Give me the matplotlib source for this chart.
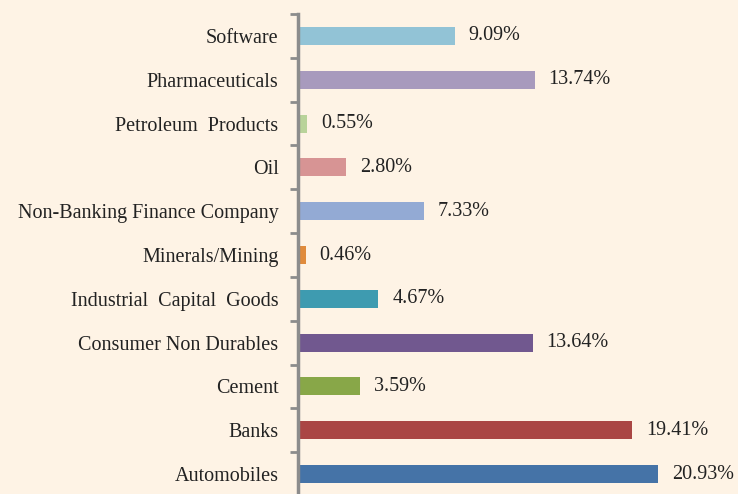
import matplotlib.pyplot as plt
import numpy as np

# sectors, bottom to top
sectors = ["Automobiles", "Banks", "Cement", "Consumer Non Durables",
           "Industrial  Capital  Goods", "Minerals/Mining", "Non-Banking Finance Company",
           "Oil", "Petroleum  Products", "Pharmaceuticals", "Software"]
weights = [20.93, 19.41, 3.59, 13.64, 4.67, 0.46, 7.33, 2.80, 0.55, 13.74, 9.09]
colors = ["#4573A7", "#AA4644", "#88A748", "#71588F", "#3E9BB0", "#E08B3C",
          "#93AAD4", "#D79494", "#B9D39A", "#A89ABD", "#92C3D6"]

bg = "#FEF3E5"
plt.rcParams['font.family'] = ['Liberation Serif', 'DejaVu Serif']

fig = plt.figure(figsize=(7.38, 4.94), dpi=100, facecolor=bg)
ax = fig.add_axes([298/738, -2/494, 1 - 298/738, 482/494])
ax.set_facecolor(bg)

y = np.arange(len(sectors))
ax.barh(y, weights, height=0.41, color=colors)
for yi, w in zip(y, weights):
    ax.text(w + 0.8, yi, f"{w:.2f}%", va="center", ha="left", fontsize=14.5, color="#222222")

ax.set_xlim(0, 25.55)
ax.set_ylim(-0.5, len(sectors) - 0.5)
ax.set_yticks(y)
ax.set_yticklabels(sectors, fontsize=14.5, color="#222222")
ax.set_yticks(np.arange(-0.5, len(sectors), 1), minor=True)
ax.tick_params(axis="y", which="major", length=0, pad=14)
ax.tick_params(axis="y", which="minor", length=6, width=2, color="#8C8C8C", direction="out")
ax.set_xticks([])
for s in ["top", "right", "bottom"]:
    ax.spines[s].set_visible(False)
ax.spines["left"].set_color("#8C8C8C")
ax.spines["left"].set_linewidth(2.5)

fig.savefig("out.png", dpi=100, facecolor=bg)
